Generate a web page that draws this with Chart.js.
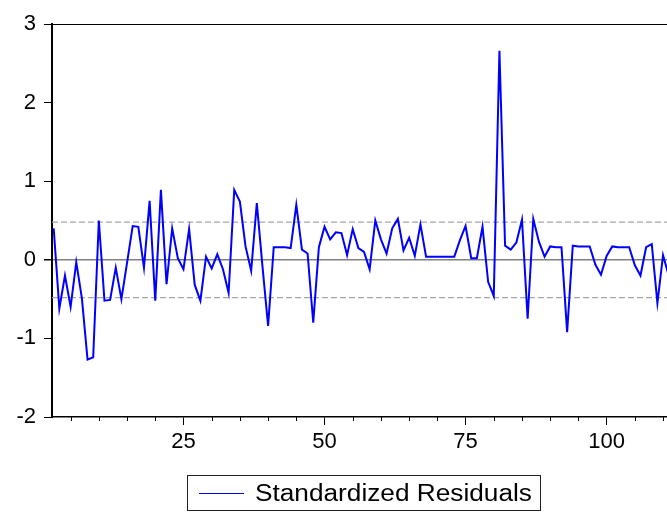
<!DOCTYPE html>
<html>
<head>
<meta charset="utf-8">
<script src="https://cdn.jsdelivr.net/npm/chart.js@4.4.1/dist/chart.umd.min.js"></script>
<style>
  html, body { margin: 0; padding: 0; background: #fff; }
  #wrap { position: relative; width: 667px; height: 512px; overflow: hidden; }
  #legend {
    position: absolute; left: 187px; top: 475px; width: 352px; height: 34px;
    border: 1px solid #222; box-sizing: content-box;
    font-family: 'Liberation Sans', Arial, sans-serif; font-size: 23px; color: #000;
  }
  #legend .swatch { position: absolute; left: 11px; top: 17px; width: 45px; height: 0; border-top: 1.5px solid #0000ff; }
  #legend .label { position: absolute; left: 67px; top: 4px; white-space: nowrap; transform-origin: 0 0; transform: scaleX(1.14); }
</style>
</head>
<body>
<div id="wrap">
  <canvas id="chart" width="667" height="512"></canvas>
  <div id="legend"><span class="swatch"></span><span class="label">Standardized Residuals</span></div>
</div>
<script>
// ====== データ ======
const SERIES_NAME = 'Standardized Residuals';
const FIRST_OBS = 2;   // 最初の観測番号
const residuals = [
   0.40, -0.62, -0.20, -0.60, -0.03, -0.49, -1.27, -1.24,  0.50, -0.52,
  -0.51, -0.10, -0.50, -0.04,  0.43,  0.42, -0.10,  0.75, -0.52,  0.89,
  -0.31,  0.40,  0.02, -0.12,  0.39, -0.32, -0.52,  0.04, -0.11,  0.07,
  -0.12, -0.42,  0.89,  0.74,  0.17, -0.14,  0.72, -0.08, -0.84,  0.16,
   0.16,  0.16,  0.15,  0.70,  0.13,  0.08, -0.80,  0.16,  0.42,  0.26,
   0.35,  0.34,  0.06,  0.39,  0.15,  0.10, -0.12,  0.50,  0.26,  0.08,
   0.40,  0.52,  0.12,  0.28,  0.05,  0.45,  0.04,  0.04,  0.04,  0.04,
   0.04,  0.04,  0.25,  0.43,  0.02,  0.02,  0.42, -0.28, -0.46,  2.66,
   0.18,  0.13,  0.22,  0.51, -0.75,  0.52,  0.23,  0.04,  0.17,  0.16,
   0.16, -0.92,  0.18,  0.17,  0.17,  0.17, -0.06, -0.19,  0.05,  0.17,
   0.16,  0.16,  0.16, -0.07, -0.20,  0.16,  0.20, -0.55,  0.06, -0.20
];
const BAND = 0.48;                       // 破線 (±)
const X_MIN = 1.7, X_MAX = 110.7;
const Y_TICKS = [-2, -1, 0, 1, 2, 3];
const X_LABELS = [25, 50, 75, 100];

// ====== 図の設定 ======
const FONT = "'Liberation Sans', Arial, sans-serif";
const AXIS_W = 52, XAXIS_H = 40, PLOT_BOTTOM = 417;

const points = residuals.map((v, i) => ({ x: FIRST_OBS + i, y: v }));
const bandLine = (y) => [{ x: X_MIN, y }, { x: X_MAX, y }];

// 目盛り(5刻み)を描く: 25の倍数は長く、それ以外は短く
const minorTicks = {
  id: 'minorTicks',
  afterDraw(chart) {
    const sx = chart.scales.x, ctx = chart.ctx, yb = chart.chartArea.bottom;
    ctx.save();
    ctx.strokeStyle = '#000';
    ctx.lineWidth = 1;
    for (let v = 5; v < X_MAX; v += 5) {
      if (X_LABELS.includes(v)) continue;
      const px = Math.round(sx.getPixelForValue(v)) + 0.5;
      ctx.beginPath();
      ctx.moveTo(px, yb);
      ctx.lineTo(px, yb + 4);
      ctx.stroke();
    }
    ctx.restore();
  }
};

new Chart(document.getElementById('chart'), {
  type: 'line',
  data: {
    datasets: [
      { label: SERIES_NAME, data: points, borderColor: '#0000ff', borderWidth: 2,
        pointRadius: 0, tension: 0, order: 0 },
      { data: bandLine(BAND), borderColor: '#a8a8a8', borderWidth: 1.2, borderDash: [6, 3],
        pointRadius: 0, order: 1 },
      { data: bandLine(-BAND), borderColor: '#a8a8a8', borderWidth: 1.2, borderDash: [6, 3],
        pointRadius: 0, order: 1 },
    ],
  },
  options: {
    responsive: false,
    animation: false,
    devicePixelRatio: 1,
    layout: { padding: { top: 24, right: 0, left: 0, bottom: 512 - PLOT_BOTTOM - XAXIS_H } },
    plugins: { legend: { display: false }, tooltip: { enabled: false } },
    scales: {
      x: {
        type: 'linear', min: X_MIN, max: X_MAX,
        afterFit: (s) => { s.height = XAXIS_H; },
        afterBuildTicks: (s) => { s.ticks = X_LABELS.map((v) => ({ value: v })); },
        grid: { drawOnChartArea: false, tickLength: 8, tickColor: '#000' },
        border: { color: '#000', width: 1.5 },
        ticks: { color: '#000', font: { family: FONT, size: 22 }, padding: 4, maxRotation: 0 },
      },
      y: {
        min: -2, max: 3,
        afterFit: (s) => { s.width = AXIS_W; },
        afterBuildTicks: (s) => { s.ticks = Y_TICKS.map((v) => ({ value: v })); },
        grid: {
          color: (c) => c.tick.value === 0 ? '#808080' : (c.tick.value === 3 ? '#000' : 'rgba(0,0,0,0)'),
          lineWidth: (c) => c.tick.value === 0 ? 1.5 : 1,
          tickLength: 8, tickColor: '#000',
        },
        border: { color: '#000', width: 2 },
        ticks: { color: '#000', font: { family: FONT, size: 22 }, padding: 8 },
      },
    },
  },
  plugins: [minorTicks],
});
</script>
</body>
</html>
